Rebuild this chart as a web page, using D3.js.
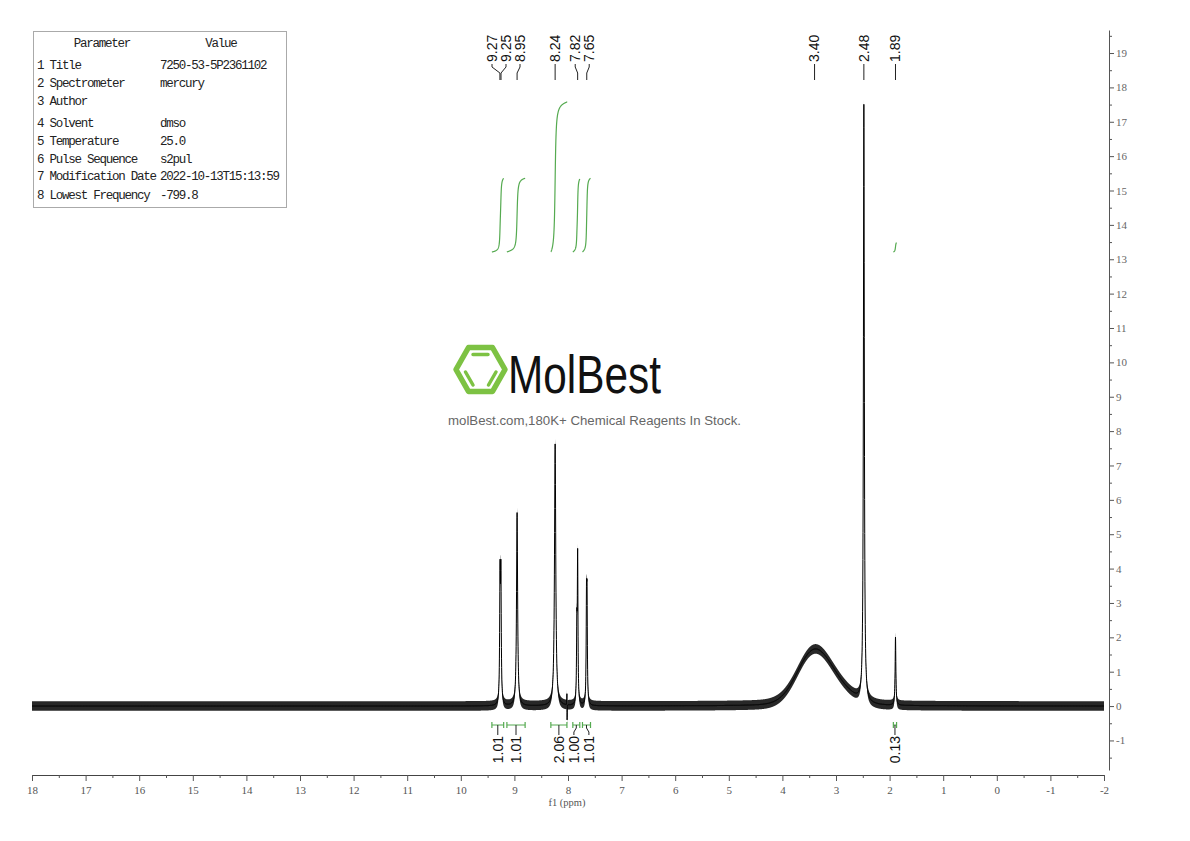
<!DOCTYPE html>
<html>
<head>
<meta charset="utf-8">
<script src="https://cdn.jsdelivr.net/npm/d3@7"></script>
<style>
  body { margin: 0; background: #fff; }
  svg { display: block; }
</style>
</head>
<body>
<svg id="chart" width="1190" height="841"></svg>
<script>
// peaks: centre (ppm), height (axis units), half width (ppm), shape
var peakPpm    = [9.268, 9.252, 8.95, 8.24, 8.020, 8.017, 7.835, 7.82, 7.655, 7.645, 3.42, 2.95, 3.40, 2.48, 1.89];
var peakHeight = [3.55, 3.55, 5.62, 7.62, 0.5, -0.6, 2.05, 4.2, 2.72, 2.72, 1.4, 0.35, 0.15, 17.35, 1.98];
var peakWidth  = [0.008, 0.008, 0.012, 0.014, 0.002, 0.002, 0.007, 0.007, 0.007, 0.007, 0.36, 0.35, 0.6, 0.01, 0.008];
var peakShape  = ['L', 'L', 'L', 'L', 'L', 'L', 'L', 'L', 'L', 'L', 'G', 'G', 'L', 'L', 'L'];
var noiseLevel = 0.14;

// picked peaks
var pickPpm   = [9.27, 9.25, 8.95, 8.24, 7.82, 7.65, 3.40, 2.48, 1.89];
var pickLabel = ['9.27', '9.25', '8.95', '8.24', '7.82', '7.65', '3.40', '2.48', '1.89'];

// integrals
var integralFrom  = [9.42, 9.14, 8.32, 7.91, 7.73, 1.93];
var integralTo    = [9.20, 8.80, 8.02, 7.78, 7.58, 1.87];
var integralValue = [1.01, 1.01, 2.06, 1.00, 1.01, 0.13];
var integralLabel = ['1.01', '1.01', '2.06', '1.00', '1.01', '0.13'];

// parameter table
var paramNames  = ['1 Title', '2 Spectrometer', '3 Author', '4 Solvent', '5 Temperature', '6 Pulse Sequence', '7 Modification Date', '8 Lowest Frequency'];
var paramValues = ['7250-53-5P2361102', 'mercury', '', 'dmso', '25.0', 's2pul', '2022-10-13T15:13:59', '-799.8'];

var xTicks = d3.range(18, -2.5, -1);
var yTicks = d3.range(-1, 20, 1);

var svg = d3.select('#chart');
var green = '#55aa50',
    serif = '"Liberation Serif", "DejaVu Serif", serif',
    sans = '"Liberation Sans", Arial, sans-serif',
    mono = '"Liberation Mono", "DejaVu Sans Mono", monospace';

var x = d3.scaleLinear().domain([18, -2]).range([32, 1104]);
var y = d3.scaleLinear().domain([-1.86, 19.67]).range([770, 30]);

function erf(z) {
  var t = 1 / (1 + 0.3275911 * Math.abs(z));
  var r = 1 - (((((1.061405429 * t - 1.453152027) * t) + 1.421413741) * t - 0.284496736) * t + 0.254829592) * t * Math.exp(-z * z);
  return z < 0 ? -r : r;
}

function signal(p) {
  var s = 0;
  for (var i = 0; i < peakPpm.length; i++) {
    var u = (p - peakPpm[i]) / peakWidth[i];
    if (peakShape[i] === 'G') s += peakHeight[i] * Math.exp(-Math.LN2 * u * u);
    else s += peakHeight[i] / (1 + u * u);
  }
  return s;
}
// area of the peaks between two shifts (a > b)
function area(a, b) {
  var s = 0;
  for (var i = 0; i < peakPpm.length; i++) {
    var w = peakWidth[i], c = peakPpm[i];
    if (peakShape[i] === 'G') {
      var k = Math.sqrt(Math.LN2) / w;
      s += peakHeight[i] * Math.sqrt(Math.PI) / (2 * k) * (erf((a - c) * k) - erf((b - c) * k));
    } else {
      s += peakHeight[i] * w * (Math.atan((a - c) / w) - Math.atan((b - c) / w));
    }
  }
  return s;
}

// ---- axes ----
var xAxis = svg.append('g').attr('transform', 'translate(0,775)')
  .call(d3.axisBottom(x).tickValues(xTicks).tickSize(6).tickSizeOuter(0).tickFormat(function(d) { return String(d); }));
svg.append('g').attr('transform', 'translate(0,775)')
  .call(d3.axisBottom(x).tickValues(xTicks.slice(1).map(function(d) { return d + 0.5; })).tickSize(3).tickFormat(''))
  .select('.domain').remove();
xAxis.select('.domain').attr('stroke', '#444');
xAxis.selectAll('.tick text').attr('font-family', serif).attr('font-size', 11).attr('fill', '#555').attr('dy', '0.9em');

var yAxis = svg.append('g').attr('transform', 'translate(1109,0)')
  .call(d3.axisRight(y).tickValues(yTicks).tickSize(5).tickSizeOuter(0).tickFormat(function(d) { return String(d); }));
svg.append('g').attr('transform', 'translate(1109,0)')
  .call(d3.axisRight(y).tickValues(d3.range(-1.5, 19.6, 1)).tickSize(3).tickFormat(''))
  .select('.domain').remove();
yAxis.select('.domain').attr('stroke', '#555');
yAxis.selectAll('.tick text').attr('font-family', serif).attr('font-size', 11).attr('fill', '#666').attr('x', 7);
svg.selectAll('.tick line').attr('stroke', '#555');

svg.append('text').attr('x', 567).attr('y', 806).attr('text-anchor', 'middle')
  .attr('font-family', serif).attr('font-size', 10.5).attr('fill', '#555').text('f1 (ppm)');

// ---- spectrum ----
var pts = d3.range(18, -2.0001, -0.002).concat(peakPpm).sort(d3.descending);
svg.append('path').datum(pts)
  .attr('fill', '#111').attr('fill-opacity', 0.9)
  .attr('d', d3.area()
    .x(function(d) { return x(d); })
    .y0(function(d) { return y(signal(d) - noiseLevel); })
    .y1(function(d) { return y(signal(d) + noiseLevel); }));
svg.append('path').datum(pts)
  .attr('fill', 'none').attr('stroke', '#000').attr('stroke-width', 1)
  .attr('d', d3.line().x(function(d) { return x(d); }).y(function(d) { return y(signal(d)); }));

// ---- integral curves ----
var intBase = 252, intScale = 73;
integralFrom.forEach(function(a, i) {
  var b = integralTo[i], total = area(a, b);
  var ps = d3.range(0, 101).map(function(k) { return a - (a - b) * k / 100; });
  svg.append('path').datum(ps)
    .attr('fill', 'none').attr('stroke', green).attr('stroke-width', 1.2)
    .attr('d', d3.line()
      .x(function(p) { return x(p); })
      .y(function(p) { return intBase - integralValue[i] * intScale * area(a, p) / total; }));
});

// spread labels so they do not overlap
function spread(xs, gap) {
  var pos = xs.slice();
  for (var it = 0; it < 200; it++) {
    for (var i = 0; i < pos.length - 1; i++) {
      var d = pos[i + 1] - pos[i];
      if (d < gap) { pos[i] -= (gap - d) / 2; pos[i + 1] += (gap - d) / 2; }
    }
  }
  return pos;
}

// ---- peak labels ----
var pickX = pickPpm.map(function(p) { return x(p); });
var pickPos = spread(pickX, 14);
pickLabel.forEach(function(t, i) {
  var lx = pickPos[i], px = pickX[i];
  svg.append('text')
    .attr('transform', 'translate(' + lx + ',62) rotate(-90)')
    .attr('dy', '0.35em').attr('font-family', sans).attr('font-size', 14).attr('fill', '#111')
    .text(t);
  svg.append('path')
    .attr('fill', 'none').attr('stroke', '#222').attr('stroke-width', 1)
    .attr('d', d3.line()([[lx, 64], [lx, 67], [px, 73], [px, 80]]));
});

// ---- integral brackets and labels ----
var brX = integralFrom.map(function(a, i) { return (x(a) + x(integralTo[i])) / 2; });
var brPos = spread(brX, 15);
integralLabel.forEach(function(t, i) {
  var x0 = x(integralFrom[i]), x1 = x(integralTo[i]), cx = brX[i], lx = brPos[i];
  svg.append('path')
    .attr('fill', 'none').attr('stroke', green).attr('stroke-width', 1.2)
    .attr('d', 'M' + x0 + ',722V728M' + x0 + ',725H' + x1 + 'M' + x1 + ',722V728');
  svg.append('path')
    .attr('fill', 'none').attr('stroke', '#222').attr('stroke-width', 1)
    .attr('d', d3.line()([[cx, 725], [cx, 728], [lx, 732], [lx, 735]]));
  svg.append('text')
    .attr('transform', 'translate(' + lx + ',736) rotate(-90)')
    .attr('text-anchor', 'end').attr('dy', '0.35em')
    .attr('font-family', sans).attr('font-size', 14).attr('fill', '#111')
    .text(t);
});

// ---- parameter table ----
svg.append('rect').attr('x', 33.5).attr('y', 31.5).attr('width', 253).attr('height', 176)
  .attr('fill', '#fff').attr('stroke', '#aaa');
var tbl = svg.append('g').attr('font-family', mono).attr('font-size', 12.5)
  .attr('letter-spacing', '-1.25px').attr('fill', '#222');
tbl.append('text').attr('x', 102).attr('y', 47).attr('text-anchor', 'middle').text('Parameter');
tbl.append('text').attr('x', 221).attr('y', 47).attr('text-anchor', 'middle').text('Value');
var rowY = [65, 83, 101, 123, 141, 159, 176, 194.5];
paramNames.forEach(function(n, i) {
  tbl.append('text').attr('x', 37).attr('y', rowY[i] + 4).text(n);
  tbl.append('text').attr('x', 160).attr('y', rowY[i] + 4).text(paramValues[i]);
});

// ---- watermark ----
var logo = svg.append('g').attr('fill', 'none').attr('stroke', '#7dc243').attr('stroke-linecap', 'round');
logo.append('path').attr('stroke-width', 5.5).attr('stroke-linejoin', 'round')
  .attr('d', 'M456,369.5L468.5,347.5L492.5,347.5L505,369.5L492.5,391.5L468.5,391.5Z');
logo.append('path').attr('stroke-width', 3.5)
  .attr('d', 'M473,354.5H488M465.5,372L473,385M496,372L488.5,385');
svg.append('text').attr('x', 508).attr('y', 393)
  .attr('font-family', '"Liberation Sans Narrow", "Liberation Sans", sans-serif')
  .attr('font-size', 53).attr('fill', '#111')
  .attr('textLength', 153).attr('lengthAdjust', 'spacingAndGlyphs')
  .text('MolBest');
svg.append('text').attr('x', 448).attr('y', 425)
  .attr('font-family', sans).attr('font-size', 13.5).attr('fill', '#666')
  .attr('textLength', 293).attr('lengthAdjust', 'spacingAndGlyphs')
  .text('molBest.com,180K+ Chemical Reagents In Stock.');
</script>
</body>
</html>
